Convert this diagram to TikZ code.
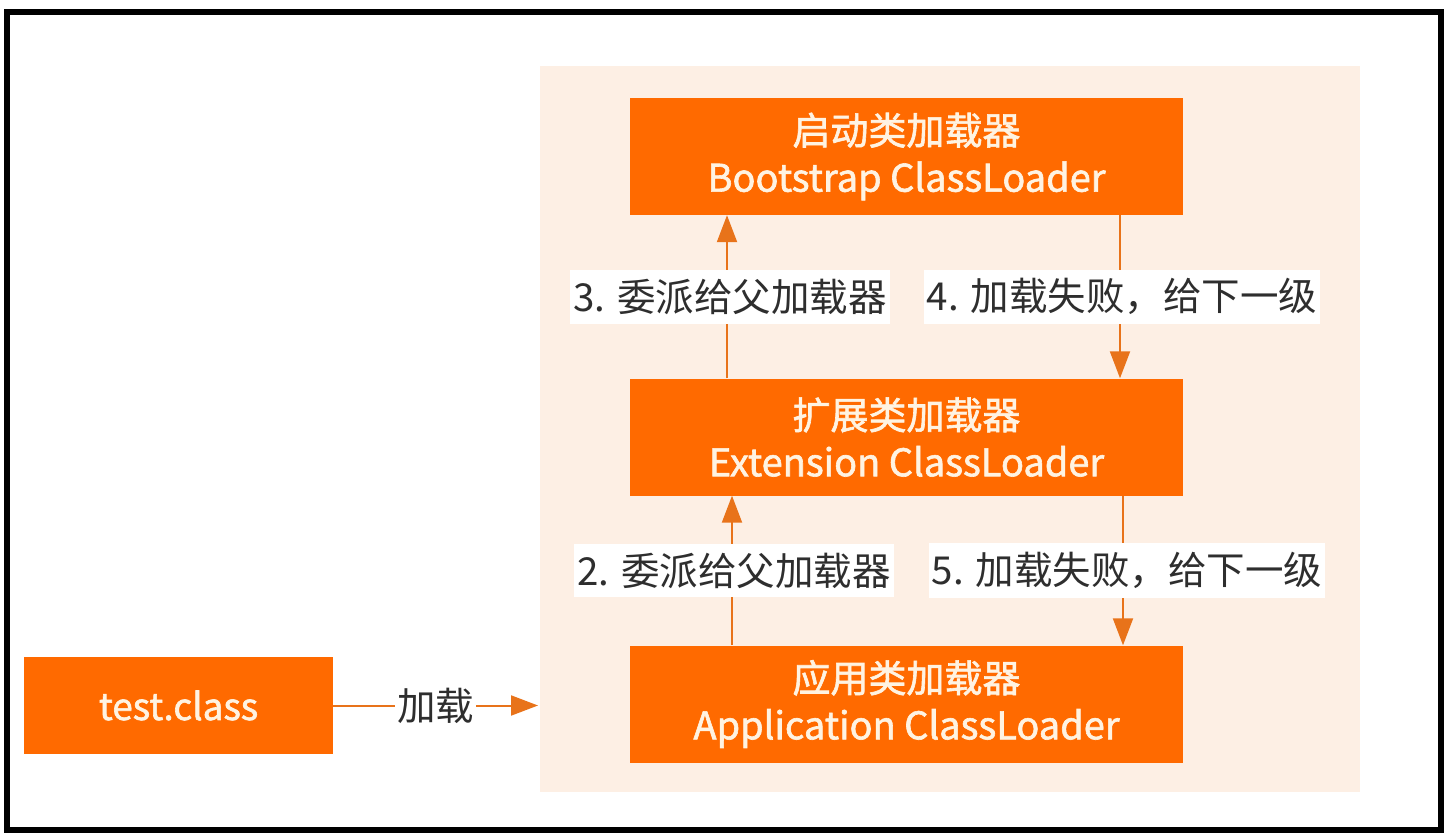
\documentclass[tikz,border=0pt]{standalone}
\usepackage{fontspec}
\setmainfont{Noto Sans CJK SC}
\newfontfamily\boxfont{Noto Sans CJK SC}[BoldFont=Noto Sans CJK SC, BoldFeatures={FakeBold=1.6}]
\usetikzlibrary{arrows.meta}
\definecolor{orng}{HTML}{FF6A00}
\definecolor{arr}{HTML}{E8731A}
\definecolor{panelc}{HTML}{FDEFE4}
\definecolor{boxtxt}{HTML}{FFF3E2}
\definecolor{lbltxt}{HTML}{2E2E2E}
\begin{document}
\begin{tikzpicture}[x=1pt,y=-1pt,
  loader/.style={fill=orng, draw=none, minimum width=553pt, minimum height=117pt,
    text=boxtxt, align=center, inner sep=0pt, font=\boxfont\bfseries\fontsize{38}{47}\selectfont},
  srcbox/.style={fill=orng, draw=none, minimum width=309pt, minimum height=97pt,
    text=boxtxt, inner sep=0pt, font=\boxfont\bfseries\fontsize{37}{44}\selectfont},
  lbl/.style={fill=white, text=lbltxt, inner xsep=3pt, inner ysep=9pt, font=\fontsize{38.5}{44}\selectfont},
  conn/.style={draw=arr, line width=2pt, -{Triangle[length=27pt,width=20pt]}}]
\useasboundingbox (0,0) rectangle (1454,840);
\fill[white] (0,0) rectangle (1454,840);
\fill[panelc] (540,66) rectangle (1360,792);
\node[loader] (boot) at (906.5,156.5) {启动类加载器\\Bootstrap ClassLoader};
\node[loader] (ext) at (906.5,437) {扩展类加载器\\Extension ClassLoader};
\node[loader] (app) at (906.5,704) {应用类加载器\\Application ClassLoader};
\node[srcbox] (src) at (178.5,705.5) {test.class};
\coordinate (in) at (538,705.5);
\draw[conn] (src.east) -- node[lbl, inner xsep=2pt, inner ysep=4pt] {加载} (in);
\draw[conn] ([xshift=-179.5pt]ext.north) -- node[lbl, xshift=3pt] {3. 委派给父加载器} ([xshift=-179.5pt]boot.south);
\draw[conn] ([xshift=213.5pt]boot.south) -- node[lbl, xshift=2pt] {4. 加载失败，给下一级} ([xshift=213.5pt]ext.north);
\draw[conn] ([xshift=-174.5pt]app.north) -- node[lbl, xshift=2pt] {2. 委派给父加载器} ([xshift=-174.5pt]ext.south);
\draw[conn] ([xshift=216.5pt]ext.south) -- node[lbl, xshift=4pt] {5. 加载失败，给下一级} ([xshift=216.5pt]app.north);
\draw[black, line width=6pt] (7,12) rectangle (1441,830);
\end{tikzpicture}
\end{document}
